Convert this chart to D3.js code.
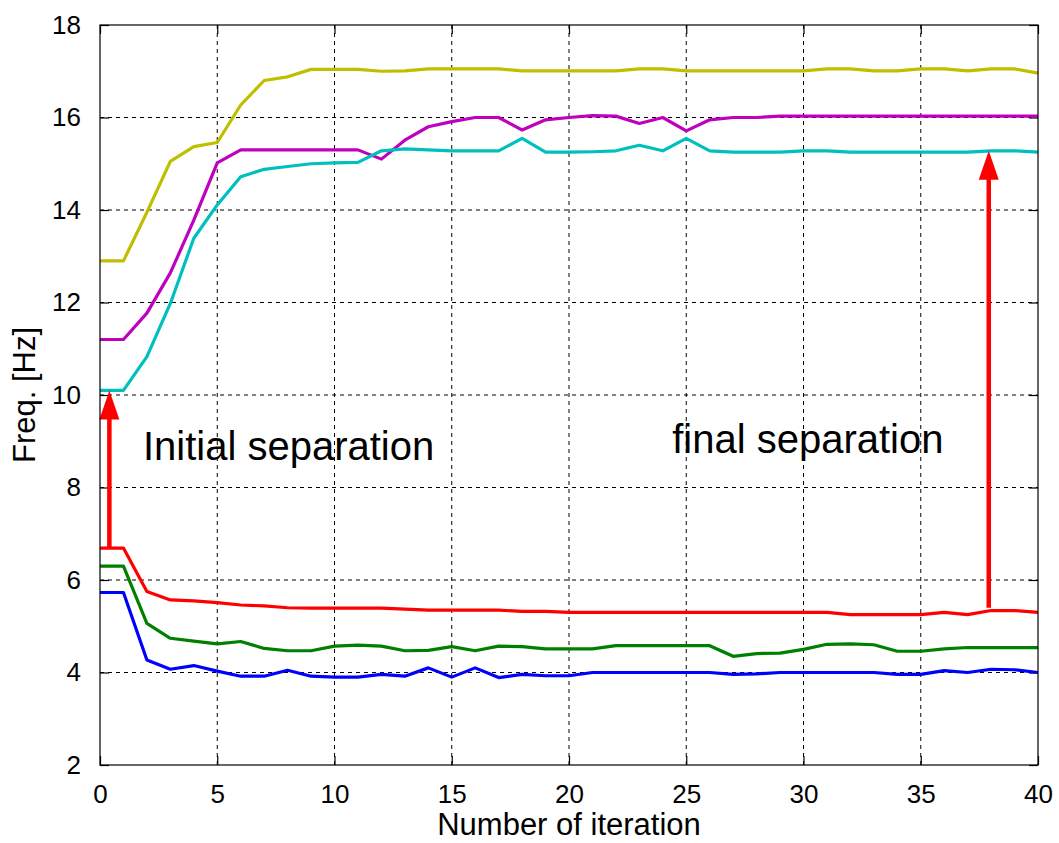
<!DOCTYPE html>
<html lang="en">
<head>
<meta charset="UTF-8">
<title>Freq vs iteration</title>
<style>
    body { margin: 0; background: #fff; }
    svg { display: block; font-family: "Liberation Sans", Arial, sans-serif; }
    .grid line { stroke: #000; stroke-width: 1; stroke-dasharray: 4,4; }
    .frame { fill: none; stroke: #000; stroke-width: 1.2; }
    .tick-label { font-size: 26px; fill: #000; }
    .series { fill: none; stroke-width: 3.2; stroke-linejoin: round; }
</style>
</head>
<body>
<script src="https://d3js.org/d3.v7.min.js"></script>
<script>

var iterations = d3.range(0, 41);

var yellow = [12.9, 12.9, 13.95, 15.05, 15.37, 15.46, 16.27, 16.8, 16.88, 17.04, 17.04,
    17.04, 17.0, 17.01, 17.05, 17.05, 17.05, 17.05, 17.01, 17.01, 17.01,
    17.01, 17.01, 17.05, 17.05, 17.01, 17.01, 17.01, 17.01, 17.01, 17.01,
    17.05, 17.05, 17.01, 17.01, 17.05, 17.05, 17.01, 17.05, 17.05, 16.96];
var magenta = [11.2, 11.2, 11.77, 12.64, 13.78, 15.02, 15.3, 15.3, 15.3, 15.3, 15.3,
    15.3, 15.1, 15.51, 15.8, 15.91, 16.0, 16.0, 15.73, 15.95, 16.0,
    16.04, 16.03, 15.87, 16.0, 15.71, 15.95, 16.0, 16.0, 16.03, 16.03,
    16.03, 16.03, 16.03, 16.03, 16.03, 16.03, 16.03, 16.03, 16.03, 16.03];
var cyan = [10.1, 10.1, 10.83, 11.98, 13.39, 14.11, 14.72, 14.88, 14.94, 15.0, 15.02,
    15.03, 15.28, 15.32, 15.3, 15.28, 15.28, 15.28, 15.55, 15.25, 15.25,
    15.26, 15.28, 15.4, 15.28, 15.55, 15.28, 15.25, 15.25, 15.25, 15.28,
    15.28, 15.25, 15.25, 15.25, 15.25, 15.25, 15.25, 15.28, 15.28, 15.25];
var red = [6.69, 6.69, 5.75, 5.57, 5.55, 5.51, 5.46, 5.44, 5.4, 5.39, 5.39,
    5.39, 5.39, 5.37, 5.35, 5.35, 5.35, 5.35, 5.32, 5.32, 5.3,
    5.3, 5.3, 5.3, 5.3, 5.3, 5.3, 5.3, 5.3, 5.3, 5.3,
    5.3, 5.25, 5.25, 5.25, 5.25, 5.3, 5.25, 5.34, 5.34, 5.3];
var green = [6.3, 6.3, 5.06, 4.74, 4.68, 4.62, 4.67, 4.52, 4.47, 4.47, 4.57,
    4.59, 4.57, 4.47, 4.48, 4.56, 4.47, 4.57, 4.56, 4.51, 4.51,
    4.51, 4.58, 4.58, 4.58, 4.58, 4.58, 4.35, 4.41, 4.42, 4.5,
    4.61, 4.62, 4.6, 4.46, 4.46, 4.51, 4.54, 4.54, 4.54, 4.54];
var blue = [5.73, 5.73, 4.27, 4.07, 4.15, 4.03, 3.92, 3.92, 4.05, 3.92, 3.9,
    3.9, 3.96, 3.92, 4.1, 3.9, 4.1, 3.89, 3.96, 3.93, 3.93,
    4.0, 4.0, 4.0, 4.0, 4.0, 4.0, 3.96, 3.97, 4.0, 4.0,
    4.0, 4.0, 4.0, 3.96, 3.96, 4.04, 4.0, 4.07, 4.06, 4.0];

var seriesColors = ["#bfbf00", "#bf00bf", "#00bfbf", "#ff0000", "#008000", "#0000ff"];
var allSeries = [yellow, magenta, cyan, red, green, blue];

var xTicks = [0, 5, 10, 15, 20, 25, 30, 35, 40];
var yTicks = [2, 4, 6, 8, 10, 12, 14, 16, 18];

// arrows: iteration, from freq, to freq
var arrows = [
    { x: 0.4, from: 6.69, to: 10.1 },
    { x: 37.9, from: 5.4, to: 15.28 }
];
var notes = [
    { text: "Initial separation", x: 1.83, y: 8.6 },
    { text: "final separation", x: 24.4, y: 8.75 }
];

var margin = { top: 25, right: 21, bottom: 78, left: 100 },
    width = 1059 - margin.left - margin.right,
    height = 843 - margin.top - margin.bottom;

var x = d3.scaleLinear().domain([0, 40]).range([0, width]);
var y = d3.scaleLinear().domain([2, 18]).range([height, 0]);

var root = d3.select("body").append("svg")
    .attr("width", 1059)
    .attr("height", 843);

var svg = root.append("g")
    .attr("transform", "translate(" + margin.left + "," + margin.top + ")");

// grid
var grid = svg.append("g").attr("class", "grid");
grid.selectAll(".gx").data(xTicks.slice(1, -1)).enter().append("line")
    .attr("x1", d => x(d)).attr("x2", d => x(d))
    .attr("y1", 0).attr("y2", height);
grid.selectAll(".gy").data(yTicks.slice(1, -1)).enter().append("line")
    .attr("x1", 0).attr("x2", width)
    .attr("y1", d => y(d)).attr("y2", d => y(d));

// axes, ticks pointing inward like matlab
var tickLen = 9;
var xAxis = svg.append("g")
    .attr("transform", "translate(0," + height + ")")
    .call(d3.axisBottom(x).tickValues(xTicks).tickSize(-tickLen).tickPadding(22));
var xAxisTop = svg.append("g")
    .call(d3.axisTop(x).tickValues(xTicks).tickSize(-tickLen).tickFormat(""));
var yAxis = svg.append("g")
    .call(d3.axisLeft(y).tickValues(yTicks).tickSize(-tickLen).tickPadding(19));
var yAxisRight = svg.append("g")
    .attr("transform", "translate(" + width + ",0)")
    .call(d3.axisRight(y).tickValues(yTicks).tickSize(-tickLen).tickFormat(""));

[xAxis, xAxisTop, yAxis, yAxisRight].forEach(function(a) {
    a.select(".domain").remove();
    a.selectAll("line").attr("stroke", "#000").attr("stroke-width", 1.2);
    a.selectAll("text").attr("class", "tick-label")
        .attr("font-family", null).attr("font-size", null);
});
xAxis.selectAll("text").attr("dy", "0.6em");

// series
var line = d3.line()
    .x(function(d, i) { return x(iterations[i]); })
    .y(function(d) { return y(d); });

svg.selectAll(".series").data(allSeries).enter().append("path")
    .attr("class", "series")
    .attr("stroke", (d, i) => seriesColors[i])
    .attr("d", line);

// arrows
var headLen = 29, headHalf = 10;
arrows.forEach(function(a) {
    var ax = x(a.x), y0 = y(a.from), y1 = y(a.to);
    svg.append("line")
        .attr("x1", ax).attr("x2", ax)
        .attr("y1", y0).attr("y2", y1 + headLen - 2)
        .attr("stroke", "#ff0000").attr("stroke-width", 4.5);
    svg.append("path")
        .attr("fill", "#ff0000")
        .attr("d", "M" + ax + "," + y1 +
            "L" + (ax - headHalf) + "," + (y1 + headLen) +
            "L" + (ax + headHalf) + "," + (y1 + headLen) + "Z");
});

// annotations
svg.selectAll(".note").data(notes).enter().append("text")
    .attr("class", "note")
    .attr("x", d => x(d.x))
    .attr("y", d => y(d.y))
    .attr("font-size", "40px")
    .attr("fill", "#000")
    .text(d => d.text);

// frame
svg.append("rect").attr("class", "frame")
    .attr("x", 0).attr("y", 0)
    .attr("width", width).attr("height", height);

// axis labels
svg.append("text")
    .attr("x", width / 2)
    .attr("y", height + 70)
    .attr("text-anchor", "middle")
    .attr("font-size", "31px")
    .text("Number of iteration");

svg.append("text")
    .attr("transform", "translate(" + (-65) + "," + (height / 2) + ") rotate(-90)")
    .attr("text-anchor", "middle")
    .attr("font-size", "31px")
    .text("Freq. [Hz]");

</script>
</body>
</html>
